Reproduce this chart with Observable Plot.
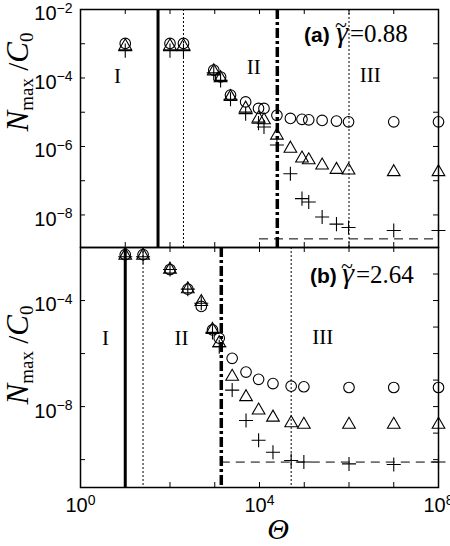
<!DOCTYPE html>
<html>
<head>
<meta charset="utf-8">
<script src="https://cdn.jsdelivr.net/npm/d3@7"></script>
<script src="https://cdn.jsdelivr.net/npm/@observablehq/plot@0.6"></script>
<style>
  html, body { margin: 0; padding: 0; background: #fff; }
  #chart { position: relative; width: 450px; height: 546px; overflow: hidden; background: #fff; }
  #chart svg { position: absolute; left: 0; overflow: hidden; background: transparent; }
</style>
</head>
<body>
<div id="chart"></div>
<script>
// ---------------- Panel (a): gamma = 0.88 ----------------
const thetaA  = [10, 100, 200, 950, 1350, 2250, 4900, 9500, 12600, 24500, 49000, 89000, 126000, 251000, 525000, 977000, 1e7, 1e8];
const circleA = [1.02e-3, 1.02e-3, 1.02e-3, 1.7e-4, 1.07e-4, 3.16e-5, 2.0e-5, 1.29e-5, 1.29e-5, 8.1e-6, 6.6e-6, 6.2e-6, 6.0e-6, 5.75e-6, 5.5e-6, 5.25e-6, 5.25e-6, 5.25e-6];
const triA    = [8.5e-4, 8.5e-4, 8.5e-4, 1.58e-4, 1.0e-4, 2.8e-5, 1.29e-5, 6.6e-6, 5.9e-6, 2.1e-6, 8.7e-7, 4.5e-7, 4.0e-7, 2.8e-7, 2.1e-7, 2.0e-7, 1.8e-7, 1.8e-7];
const plusA   = [6.3e-4, 6.3e-4, 6.3e-4, 1.41e-4, 8.5e-5, 2.4e-5, 9.1e-6, 4.8e-6, 3.7e-6, 1.1e-6, 1.6e-7, 3.0e-8, 2.4e-8, 8.7e-9, 5.4e-9, 4.3e-9, 3.5e-9, 3.5e-9];
const solidA = [54];
const dottedA = [200, 1e6];
const dashDotA = [25000];
const hLineA = 2.0e-9, hLineStartA = 1e4;
const regionTextA = ["I", "II", "III"];
const regionXA = [6.7, 7400, 3.0e6];
const regionYA = [1.1e-4, 2.1e-4, 1.2e-4];
const gammaA = "0.88";

// ---------------- Panel (b): gamma = 2.64 ----------------
const thetaB  = [10, 25, 100, 250, 500, 890, 1260, 2450, 5000, 9550, 20000, 51000, 98000, 1e6, 1e7, 1e8];
const circleB = [5.4e-3, 5.4e-3, 1.48e-3, 2.7e-4, 6.0e-5, 7.8e-6, 3.8e-6, 6.6e-7, 2.0e-7, 1.07e-7, 7.4e-8, 5.9e-8, 5.6e-8, 5.25e-8, 5.25e-8, 5.25e-8];
const triB    = [5.0e-3, 5.0e-3, 1.48e-3, 2.7e-4, 8.9e-5, 7.9e-6, 2.5e-6, 1.35e-7, 2.3e-8, 7.2e-9, 3.9e-9, 2.4e-9, 2.1e-9, 2.1e-9, 2.1e-9, 2.1e-9];
const plusB   = [4.5e-3, 4.5e-3, 1.48e-3, 2.7e-4, 7.9e-5, 6.3e-6, 1.8e-6, 4.2e-8, 3.0e-9, 5.4e-10, 1.9e-10, 9.3e-11, 8.1e-11, 6.9e-11, 6.6e-11, 8.1e-11];
const solidB = [10];
const dottedB = [25, 51000];
const dashDotB = [1400];
const hLineB = 8.1e-11, hLineStartB = 1400;
const regionTextB = ["I", "II", "III"];
const regionXB = [3.6, 180, 2.6e5];
const regionYB = [3.9e-6, 3.9e-6, 4.3e-6];
const gammaB = "2.64";

// ---------------- Axes ----------------
const xDomain = [1, 1e8];
const xTicks = [10, 100, 1e3, 1e4, 1e5, 1e6, 1e7];
const xLabelVals = [1, 1e4, 1e8];
const yDomainA = [1.12e-9, 1e-2];
const yTicksA = [1e-3, 1e-4, 1e-5, 1e-6, 1e-7, 1e-8];
const yLabelValsA = [1e-2, 1e-4, 1e-6, 1e-8];
const yDomainB = [8.9e-12, 1e-2];
const yTicksLeftB = [1e-4, 1e-6, 1e-8, 1e-10];
const yTicksRightB = [1e-3, 1e-4, 1e-5, 1e-6, 1e-7, 1e-8, 1e-9, 1e-10];
const yLabelValsB = [1e-4, 1e-8];

const SERIF = "Liberation Serif, Times New Roman, serif";
const SANS = "Liberation Sans, Arial, sans-serif";
const fmtPow = d => "10^" + String(Math.round(Math.log10(d))).replace("-", "\u2212");

function panel(o) {
  const W = 450, mL = 80, mR = 12;
  const innerW = W - mL - mR;
  const innerH = o.height - o.mT - o.mB;
  const data = o.theta.map((t, i) => ({t, c: o.circle[i], tr: o.tri[i], p: o.plus[i]}));
  const regions = o.regionText.map((s, i) => ({s, x: o.regionX[i], y: o.regionY[i]}));
  const tk = 5;
  const marks = [
    Plot.ruleX(o.solid, {x: d => d, stroke: "black", strokeWidth: 3}),
    Plot.ruleX(o.dotted, {x: d => d, stroke: "black", strokeWidth: 1, strokeDasharray: "2,2"}),
    Plot.ruleX(o.dashDot, {x: d => d, stroke: "black", strokeWidth: 3.5, strokeDasharray: "10,3,3,3"}),
    Plot.ruleY([o.hLine], {y: d => d, x1: o.hStart, x2: 1e8, stroke: "black", strokeWidth: 1, strokeDasharray: "9,6"}),
    Plot.dot(data, {x: "t", y: "c", symbol: "circle", r: 5.3, fill: "none", stroke: "black", strokeWidth: 1.1}),
    Plot.dot(data, {x: "t", y: "tr", symbol: "triangle", r: 4.7, fill: "none", stroke: "black", strokeWidth: 1.1}),
    Plot.dot(data, {x: "t", y: "p", symbol: "plus", r: 4.6, fill: "none", stroke: "black", strokeWidth: 1.1}),
    Plot.tickX(xTicks, {x: d => d, insetBottom: innerH - tk, stroke: "black", strokeWidth: 1}),
    Plot.tickX(xTicks, {x: d => d, insetTop: innerH - tk, stroke: "black", strokeWidth: 1}),
    Plot.tickY(o.yTicksLeft, {y: d => d, insetRight: innerW - tk, stroke: "black", strokeWidth: 1}),
    Plot.tickY(o.yTicksRight, {y: d => d, insetLeft: innerW - tk, stroke: "black", strokeWidth: 1}),
    Plot.frame({stroke: "black", strokeWidth: 1.5}),
    Plot.text(o.yLabelVals, {y: d => d, text: fmtPow, frameAnchor: "left", dx: -8, dy: 4.5, textAnchor: "end",
      fontFamily: SANS, fontSize: 20, fill: "black"}),
    Plot.text(regions, {x: "x", y: "y", text: "s", fontFamily: SERIF, fontSize: 21, fill: "black"})
  ];
  if (o.xLabels) {
    marks.push(Plot.text(o.xLabels, {x: d => d, text: fmtPow, frameAnchor: "bottom", dy: 24.5,
      fontFamily: SANS, fontSize: 20, fill: "black"}));
  }
  const svg = Plot.plot({
    width: W, height: o.height,
    marginLeft: mL, marginRight: mR, marginTop: o.mT, marginBottom: o.mB,
    x: {type: "log", domain: xDomain, axis: null},
    y: {type: "log", domain: o.yDomain, axis: null},
    marks
  });
  svg.style.top = o.top + "px";
  svg.style.background = "transparent";
  const s = d3.select(svg);
  // superscripts for power-of-ten labels
  s.selectAll("text").each(function() {
    const str = this.textContent;
    if (str.indexOf("^") < 0) return;
    const parts = str.split("^");
    const t = d3.select(this);
    t.text(null);
    t.append("tspan").text(parts[0]);
    t.append("tspan").attr("dy", -7.5).attr("font-size", 14).text(parts[1]);
  });
  // panel annotation
  const g = s.append("g").attr("fill", "black").attr("text-anchor", "start");
  g.append("text").attr("x", o.annX).attr("y", o.annY)
    .attr("font-family", SANS).attr("font-weight", "bold").attr("font-size", 21).text(o.tag);
  const gt = g.append("text").attr("x", o.annX + 31).attr("y", o.annY)
    .attr("font-family", SERIF).attr("font-size", 30);
  gt.append("tspan").attr("font-style", "italic").text("\u03b3");
  gt.append("tspan").attr("dx", -13).attr("dy", -10).attr("font-size", 22).text("~");
  gt.append("tspan").attr("dx", 3).attr("dy", 10).attr("font-size", 25).text("=" + o.gamma);
  // y-axis label  N_max / C_0
  const yl = s.append("text").attr("transform", `translate(28,${o.yLabelY}) rotate(-90)`)
    .attr("text-anchor", "middle").attr("font-family", SERIF).attr("fill", "black");
  yl.append("tspan").attr("font-style", "italic").attr("font-size", 31).text("N");
  yl.append("tspan").attr("font-size", 19).attr("dy", 5).text("max");
  yl.append("tspan").attr("font-size", 29).attr("dy", -5).text(" /");
  yl.append("tspan").attr("font-style", "italic").attr("font-size", 31).text("C");
  yl.append("tspan").attr("font-size", 19).attr("dy", 5).text("0");
  if (o.xTitle) {
    s.append("text").attr("x", 278).attr("y", o.height - 7).attr("text-anchor", "middle")
      .attr("font-family", SERIF).attr("font-style", "italic").attr("font-size", 30).attr("fill", "black").text("\u0398");
  }
  return svg;
}

const chart = document.getElementById("chart");
chart.appendChild(panel({
  top: 0, height: 260, mT: 9, mB: 13,
  theta: thetaA, circle: circleA, tri: triA, plus: plusA,
  solid: solidA, dotted: dottedA, dashDot: dashDotA, hLine: hLineA, hStart: hLineStartA,
  regionText: regionTextA, regionX: regionXA, regionY: regionYA,
  yDomain: yDomainA, yTicksLeft: yTicksA, yTicksRight: yTicksA, yLabelVals: yLabelValsA,
  tag: "(a)", gamma: gammaA, annX: 304, annY: 42, yLabelY: 82
}));
chart.appendChild(panel({
  top: 240, height: 306, mT: 7, mB: 59,
  theta: thetaB, circle: circleB, tri: triB, plus: plusB,
  solid: solidB, dotted: dottedB, dashDot: dashDotB, hLine: hLineB, hStart: hLineStartB,
  regionText: regionTextB, regionX: regionXB, regionY: regionYB,
  yDomain: yDomainB, yTicksLeft: yTicksLeftB, yTicksRight: yTicksRightB, yLabelVals: yLabelValsB,
  xLabels: xLabelVals, xTitle: true,
  tag: "(b)", gamma: gammaB, annX: 310, annY: 43, yLabelY: 115
}));
</script>
</body>
</html>
